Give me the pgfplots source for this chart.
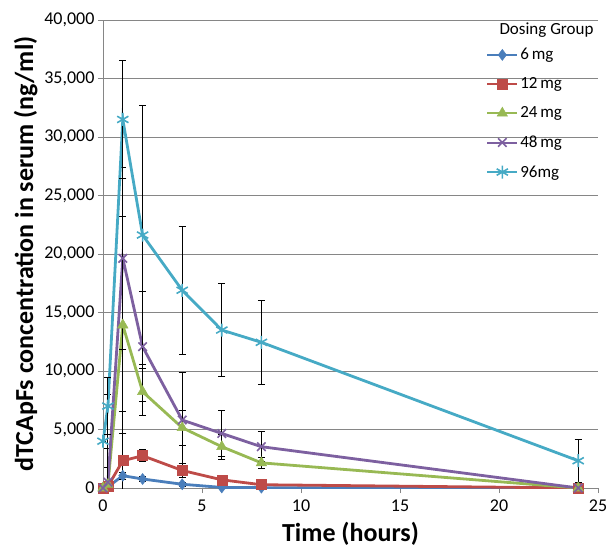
\documentclass[border=0pt]{standalone}
\usepackage{fontspec}
\setmainfont{Carlito}
\usepackage{pgfplots}
\pgfplotsset{compat=1.18}
\definecolor{gridgray}{HTML}{868686}
\definecolor{sblue}{HTML}{4A7EBB}
\definecolor{sred}{HTML}{BE4B48}
\definecolor{sgreen}{HTML}{98B954}
\definecolor{spurple}{HTML}{7D60A0}
\definecolor{scyan}{HTML}{46AAC5}
\pgfplotsset{
  eb/.style={error bars/.cd, y dir=both, y explicit,
    error bar style={black, line width=0.9pt, solid},
    error mark options={rotate=90, black, mark size=3.5pt, line width=0.9pt}},
}
\begin{document}
\begin{tikzpicture}
\begin{axis}[
    scale only axis,
    width=495pt, height=468pt,
    xmin=0, xmax=25, ymin=0, ymax=40000,
    xtick={0,5,...,25},
    ytick={0,5000,...,40000},
    scaled y ticks=false,
    /pgf/number format/.cd, 1000 sep={,}, assume math mode=true, /pgfplots/.cd,
    axis x line*=bottom, axis y line*=left,
    axis line style={draw=gridgray, line width=0.8pt},
    tick align=outside, major tick length=5pt,
    tick style={gridgray, line width=0.8pt},
    ymajorgrids, grid style={gridgray, line width=0.8pt},
    ticklabel style={font=\fontsize{18}{20}\selectfont, text=black},
    xticklabel style={yshift=-3pt},
    xlabel={Time (hours)},
    ylabel={dTCApFs concentration in serum (ng/ml)},
    label style={font=\bfseries\fontsize{26}{28}\selectfont},
    xlabel style={yshift=-3.5pt},
    legend style={draw=none, fill=none, at={(0.774,0.944)}, anchor=north west,
      font=\fontsize{17}{19}\selectfont, row sep=12.5pt, inner sep=0pt},
    legend cell align=left,
    legend image code/.code={\draw[mark repeat=2,mark phase=2,line width=2pt]
      plot coordinates {(0pt,0pt) (15pt,0pt) (30pt,0pt)};},
]
\addplot[sblue, line width=2.8pt, mark=diamond*, mark size=5.5pt,
  mark options={line width=0.5pt, fill=sblue}, eb] coordinates {
  (0,0) +- (0,0)
  (0.25,100) +- (0,50)
  (1,1050) +- (0,300)
  (2,770) +- (0,200)
  (4,320) +- (0,150)
  (6,50) +- (0,50)
  (8,30) +- (0,30)
  (24,0) +- (0,0)
};
\addlegendentry{6\,mg}
\addplot[sred, line width=2.8pt, mark=square*, mark size=5pt,
  mark options={line width=0.5pt, fill=sred}, eb] coordinates {
  (0,0) +- (0,0)
  (0.25,150) +- (0,1640)
  (1,2330) +- (0,4190)
  (2,2760) +- (0,500)
  (4,1500) +- (0,600)
  (6,700) +- (0,300)
  (8,280) +- (0,150)
  (24,0) +- (0,0)
};
\addlegendentry{12\,mg}
\addplot[sgreen, line width=2.8pt, mark=triangle*, mark size=6pt,
  mark options={line width=0.5pt, fill=sgreen}, eb] coordinates {
  (0,0) +- (0,0)
  (0.25,300) +- (0,3100)
  (1,13930) +- (0,9250)
  (2,8230) +- (0,2000)
  (4,5150) +- (0,1520)
  (6,3530) +- (0,1060)
  (8,2150) +- (0,450)
  (24,0) +- (0,0)
};
\addlegendentry{24\,mg}
\addplot[spurple, line width=2.8pt, mark=x, mark size=6pt,
  mark options={line width=1.6pt}, eb] coordinates {
  (0,0) +- (0,0)
  (0.25,500) +- (0,7500)
  (1,19630) +- (0,7750)
  (2,12080) +- (0,4700)
  (4,5810) +- (0,4070)
  (6,4660) +- (0,2000)
  (8,3530) +- (0,1300)
  (24,0) +- (0,0)
};
\addlegendentry{48\,mg}
\addplot[scyan, line width=2.8pt, mark=asterisk, mark size=6.5pt,
  mark options={line width=1.6pt}, eb] coordinates {
  (0,4000) +- (0,0)
  (0.25,7000) +- (0,2450)
  (1,31500) +- (0,5080)
  (2,21620) +- (0,11060)
  (4,16900) +- (0,5480)
  (6,13500) +- (0,3950)
  (8,12450) +- (0,3600)
  (24,2330) +- (0,1860)
};
\addlegendentry{96mg}
\node[anchor=east, font=\fontsize{17}{19}\selectfont] at (rel axis cs:0.998,0.979) {Dosing Group};
\end{axis}
\pgfresetboundingbox
\path (current axis.south west) ++(-103pt,-59pt) rectangle ++(608pt,547pt);
\end{tikzpicture}
\end{document}
